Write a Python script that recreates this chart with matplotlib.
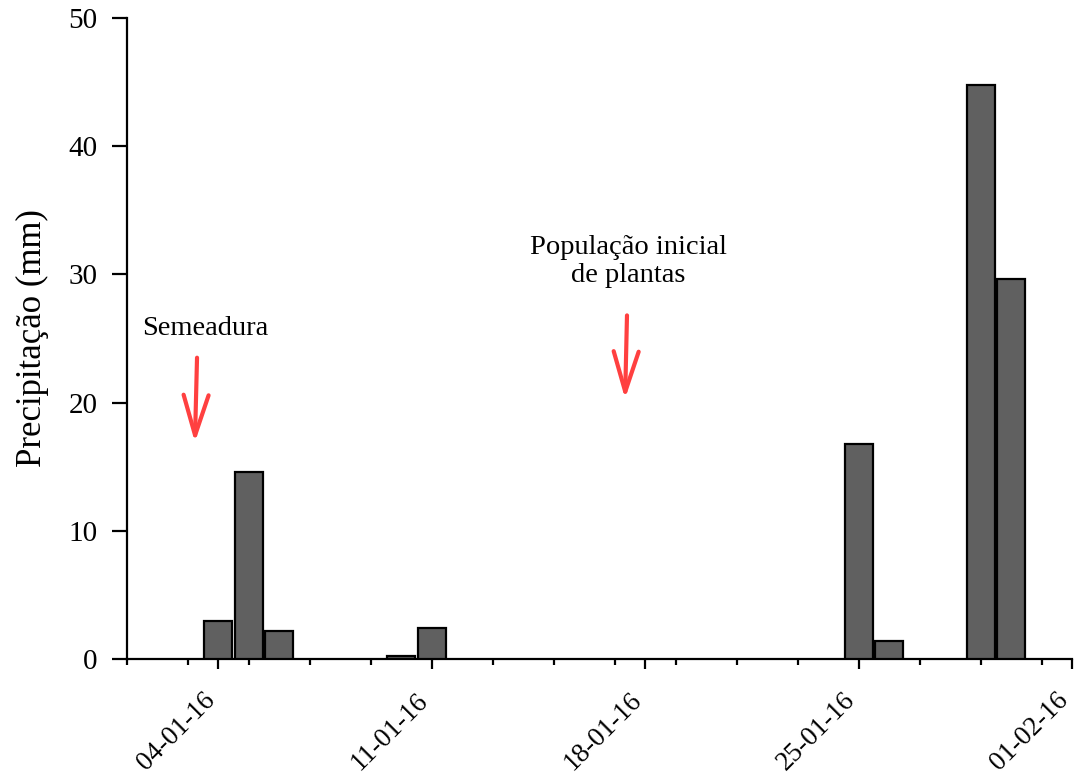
import matplotlib
matplotlib.use("Agg")
import matplotlib.pyplot as plt
import matplotlib.dates as mdates
import matplotlib.transforms as mtransforms
import pandas as pd

# Daily rainfall (mm)
rain_days = ["2016-01-04", "2016-01-05", "2016-01-06", "2016-01-10", "2016-01-11",
             "2016-01-25", "2016-01-26", "2016-01-29", "2016-01-30"]
rain_mm = [3.0, 14.6, 2.2, 0.2, 2.4, 16.8, 1.4, 44.8, 29.6]

tick_days = ["2016-01-04", "2016-01-11", "2016-01-18", "2016-01-25", "2016-02-01"]

# Event markers: label, text position, arrow tail, arrow tip (date, mm)
events = [
    ("Semeadura", ("2016-01-03 13:30", 25.8), ("2016-01-03 07:10", 23.5), ("2016-01-03 05:30", 16.9)),
    ("População inicial\nde plantas", ("2016-01-17 10:30", 31.0), ("2016-01-17 09:40", 26.8), ("2016-01-17 08:10", 20.3)),
]

plt.rcParams["font.family"] = ["Liberation Serif", "DejaVu Serif"]

fig = plt.figure(figsize=(10.75, 7.78), dpi=100)
ax = fig.add_axes([0.1181, 0.153, 0.8791, 0.8239])

x = pd.to_datetime(rain_days)
ax.bar(x, rain_mm, width=0.92, color="#606060", edgecolor="black", linewidth=1.6, zorder=3)

ax.set_xlim(pd.Timestamp("2016-01-01"), pd.Timestamp("2016-02-01"))
ax.set_ylim(0, 50)
ax.set_yticks([0, 10, 20, 30, 40, 50])

ax.xaxis.set_major_locator(matplotlib.ticker.FixedLocator(mdates.date2num(pd.to_datetime(tick_days))))
ax.xaxis.set_major_formatter(mdates.DateFormatter("%d-%m-%y"))
ax.xaxis.set_minor_locator(mdates.DayLocator(bymonthday=range(1, 32, 2)))

for s in ["top", "right"]:
    ax.spines[s].set_visible(False)
for s in ["left", "bottom"]:
    ax.spines[s].set_linewidth(1.6)

ax.tick_params(axis="y", which="major", direction="out", length=11, width=1.6, labelsize=21, pad=10)
ax.tick_params(axis="x", which="major", direction="out", length=7, width=1.6, labelsize=19.5, pad=8)
ax.tick_params(axis="x", which="minor", direction="out", length=4, width=1.6)

#? Rotate date labels and nudge them down-left so they end at the tick
shift = mtransforms.ScaledTranslation(-0.16, -0.08, fig.dpi_scale_trans)
for lbl in ax.get_xticklabels():
    lbl.set_rotation(45)
    lbl.set_ha("right")
    lbl.set_rotation_mode("anchor")
    lbl.set_transform(lbl.get_transform() + shift)

ax.set_ylabel("Precipitação (mm)", fontsize=25, labelpad=14)

for label, txt, tail, tip in events:
    ax.text(pd.Timestamp(txt[0]), txt[1], label, fontsize=20.5, ha="center", va="center")
    ax.annotate("", xy=(pd.Timestamp(tip[0]), tip[1]), xytext=(pd.Timestamp(tail[0]), tail[1]),
                arrowprops=dict(arrowstyle="->,head_length=1.45,head_width=0.45",
                                mutation_scale=20, color="#ff4040", lw=3,
                                shrinkA=0, shrinkB=0))

fig.savefig("out.png", dpi=100)
